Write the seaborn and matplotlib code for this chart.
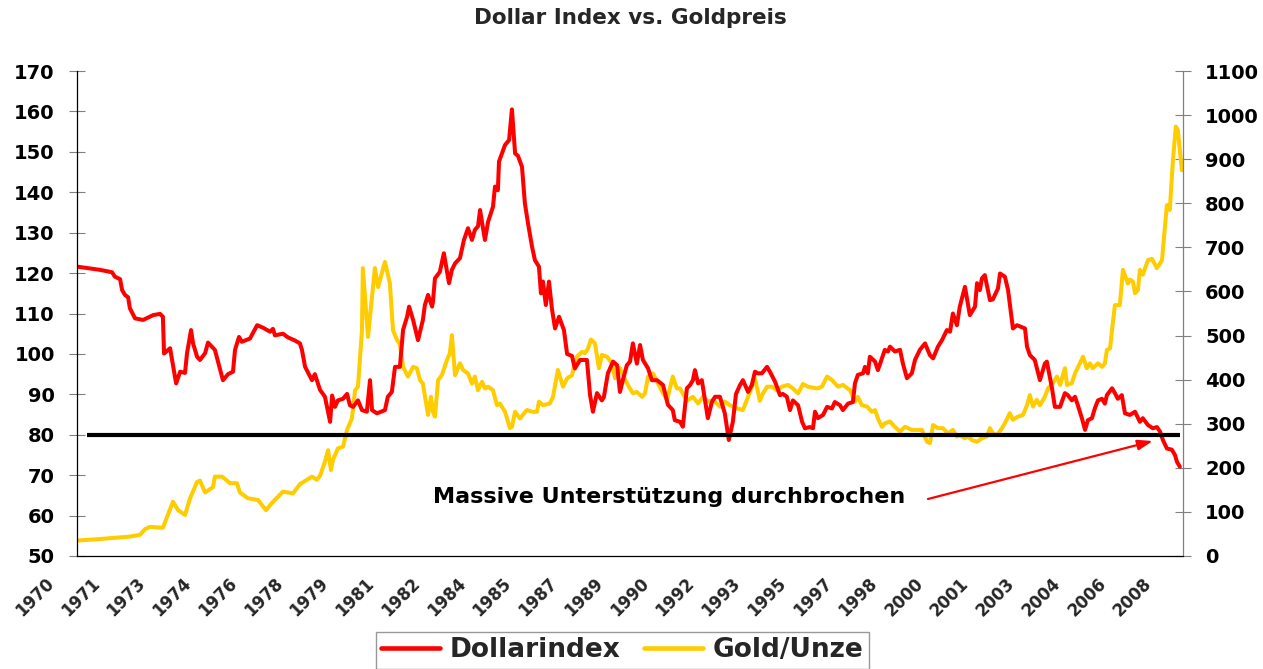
import numpy as np
import pandas as pd
import matplotlib
matplotlib.use("Agg")
import matplotlib.pyplot as plt
import seaborn as sns
from matplotlib.transforms import ScaledTranslation

# ---------------- data ----------------
usd_years = [
    1970.00, 1970.80, 1971.22, 1971.32, 1971.50, 1971.57, 1971.67, 1971.78, 1971.84, 1972.02,
    1972.30, 1972.65, 1972.89, 1972.99, 1973.03, 1973.24, 1973.31, 1973.45, 1973.59, 1973.76,
    1973.83, 1973.97, 1974.04, 1974.18, 1974.28, 1974.46, 1974.56, 1974.80, 1975.08, 1975.26,
    1975.43, 1975.50, 1975.64, 1975.74, 1976.02, 1976.27, 1976.47, 1976.72, 1976.82, 1976.89,
    1977.17, 1977.34, 1977.59, 1977.76, 1977.83, 1977.94, 1978.18, 1978.28, 1978.46, 1978.63,
    1978.81, 1978.88, 1978.98, 1979.08, 1979.26, 1979.40, 1979.50, 1979.61, 1979.78, 1979.92,
    1980.09, 1980.20, 1980.27, 1980.44, 1980.72, 1980.82, 1980.96, 1981.07, 1981.24, 1981.35,
    1981.49, 1981.56, 1981.70, 1981.87, 1982.04, 1982.11, 1982.22, 1982.36, 1982.39, 1982.46,
    1982.63, 1982.77, 1982.95, 1983.05, 1983.16, 1983.33, 1983.47, 1983.61, 1983.75, 1983.85,
    1983.96, 1984.03, 1984.20, 1984.31, 1984.48, 1984.55, 1984.65, 1984.69, 1984.90, 1985.04,
    1985.14, 1985.25, 1985.35, 1985.49, 1985.59, 1985.70, 1985.84, 1985.94, 1986.08, 1986.15,
    1986.22, 1986.32, 1986.43, 1986.53, 1986.64, 1986.78, 1986.95, 1987.06, 1987.23, 1987.33,
    1987.51, 1987.75, 1987.86, 1987.96, 1988.10, 1988.27, 1988.34, 1988.48, 1988.66, 1988.80,
    1988.90, 1989.00, 1989.14, 1989.25, 1989.35, 1989.49, 1989.60, 1989.70, 1989.88, 1990.01,
    1990.19, 1990.40, 1990.57, 1990.74, 1990.81, 1990.99, 1991.09, 1991.23, 1991.34, 1991.44,
    1991.51, 1991.62, 1991.75, 1991.86, 1991.96, 1992.10, 1992.21, 1992.38, 1992.55, 1992.69,
    1992.83, 1992.94, 1993.08, 1993.18, 1993.36, 1993.49, 1993.60, 1993.70, 1993.84, 1994.02,
    1994.12, 1994.30, 1994.47, 1994.57, 1994.71, 1994.82, 1994.92, 1995.10, 1995.24, 1995.34,
    1995.51, 1995.62, 1995.69, 1995.79, 1995.97, 1996.11, 1996.28, 1996.38, 1996.56, 1996.66,
    1996.84, 1997.01, 1997.08, 1997.18, 1997.36, 1997.43, 1997.53, 1997.60, 1997.78, 1997.88,
    1998.02, 1998.12, 1998.23, 1998.30, 1998.47, 1998.65, 1998.75, 1998.89, 1999.06, 1999.17,
    1999.34, 1999.52, 1999.69, 1999.80, 1999.97, 2000.11, 2000.28, 2000.39, 2000.49, 2000.63,
    2000.73, 2000.91, 2001.08, 2001.26, 2001.33, 2001.43, 2001.50, 2001.60, 2001.78, 2001.88,
    2002.06, 2002.13, 2002.30, 2002.41, 2002.58, 2002.72, 2003.00, 2003.07, 2003.17, 2003.34,
    2003.52, 2003.69, 2003.76, 2003.94, 2004.04, 2004.22, 2004.39, 2004.49, 2004.63, 2004.74,
    2004.84, 2004.98, 2005.09, 2005.19, 2005.33, 2005.43, 2005.54, 2005.68, 2005.78, 2005.85,
    2006.03, 2006.13, 2006.23, 2006.37, 2006.48, 2006.65, 2006.83, 2007.00, 2007.10, 2007.28,
    2007.45, 2007.59, 2007.70, 2007.80, 2007.94, 2008.11, 2008.22, 2008.29, 2008.39,
]
usd_index = [
    121.6, 120.8, 120.2, 119.1, 118.5, 115.8, 114.6, 114.0, 111.3, 108.8,
    108.4, 109.6, 109.9, 109.2, 100.1, 101.4, 98.5, 92.7, 95.6, 95.3,
    100.2, 105.9, 102.6, 99.3, 98.5, 100.2, 102.8, 101.0, 93.5, 95.0,
    95.6, 101.0, 104.2, 103.0, 103.8, 107.1, 106.5, 105.5, 106.2, 104.6,
    105.0, 104.1, 103.3, 102.6, 101.0, 96.8, 93.5, 95.0, 91.1, 89.4,
    83.2, 89.7, 86.9, 88.5, 88.9, 90.1, 87.3, 86.9, 88.5, 86.1,
    85.7, 93.5, 86.1, 85.3, 86.1, 89.4, 90.6, 96.8, 96.8, 105.9,
    109.2, 111.7, 108.4, 103.4, 108.4, 112.1, 114.6, 111.7, 112.9, 118.7,
    120.3, 124.9, 117.5, 120.8, 122.4, 123.7, 128.2, 131.1, 128.2, 130.7,
    131.6, 135.6, 128.2, 132.7, 136.4, 141.4, 140.5, 147.6, 151.7, 152.9,
    160.5, 149.6, 149.0, 146.3, 137.3, 132.3, 126.5, 123.2, 121.6, 115.0,
    117.9, 112.1, 117.9, 111.3, 106.3, 109.2, 105.9, 100.0, 99.5, 96.4,
    98.5, 98.5, 89.8, 85.7, 90.3, 88.5, 89.3, 95.2, 98.1, 97.2,
    90.6, 93.5, 97.2, 98.1, 102.6, 97.6, 102.2, 98.5, 96.4, 93.5,
    93.5, 92.3, 87.4, 86.1, 83.6, 83.2, 82.0, 91.5, 92.3, 93.5,
    96.0, 92.7, 93.5, 88.6, 84.1, 88.1, 89.4, 89.4, 85.3, 78.7,
    83.2, 90.1, 92.3, 93.5, 90.6, 92.3, 95.6, 95.2, 95.2, 96.8,
    95.6, 93.1, 89.8, 90.1, 89.4, 86.1, 88.5, 87.3, 83.2, 81.6,
    81.9, 81.6, 85.7, 84.1, 84.9, 86.9, 86.5, 88.1, 87.3, 86.1,
    87.7, 88.1, 92.7, 94.8, 95.2, 96.8, 95.2, 99.3, 98.1, 96.0,
    98.9, 101.0, 100.6, 101.8, 100.6, 101.0, 97.6, 94.0, 95.2, 98.5,
    101.0, 102.6, 99.7, 98.9, 101.8, 103.4, 105.9, 105.5, 110.0, 107.1,
    111.7, 116.6, 109.6, 111.7, 117.5, 115.8, 118.7, 119.5, 113.3, 113.5,
    116.2, 119.9, 119.1, 115.8, 106.3, 107.1, 106.3, 101.8, 99.7, 98.5,
    93.5, 97.6, 98.1, 91.5, 86.9, 86.9, 90.3, 89.8, 88.5, 89.4,
    87.3, 84.1, 81.2, 83.6, 84.1, 86.5, 88.5, 88.9, 87.7, 89.8,
    91.5, 90.3, 88.9, 89.8, 85.3, 84.9, 85.7, 83.2, 84.1, 82.4,
    81.6, 81.9, 80.8, 78.7, 76.6, 76.3, 75.0, 73.3, 72.1,
]

gold_years = [
    1970.00, 1970.70, 1971.84, 1972.19, 1972.37, 1972.54, 1972.99, 1973.34, 1973.52, 1973.76,
    1973.93, 1974.18, 1974.28, 1974.46, 1974.73, 1974.80, 1975.05, 1975.33, 1975.57, 1975.67,
    1975.95, 1976.30, 1976.58, 1976.82, 1977.17, 1977.52, 1977.76, 1978.18, 1978.35, 1978.46,
    1978.63, 1978.74, 1978.84, 1978.91, 1979.08, 1979.26, 1979.40, 1979.57, 1979.68, 1979.78,
    1979.92, 1979.95, 1980.13, 1980.37, 1980.48, 1980.72, 1980.89, 1981.00, 1981.14, 1981.24,
    1981.35, 1981.52, 1981.70, 1981.83, 1981.94, 1982.04, 1982.22, 1982.32, 1982.39, 1982.46,
    1982.57, 1982.70, 1982.88, 1982.98, 1983.05, 1983.16, 1983.33, 1983.44, 1983.61, 1983.75,
    1983.85, 1983.96, 1984.10, 1984.20, 1984.31, 1984.48, 1984.62, 1984.72, 1984.90, 1985.07,
    1985.14, 1985.25, 1985.42, 1985.66, 1985.87, 1986.01, 1986.08, 1986.22, 1986.46, 1986.57,
    1986.74, 1986.92, 1987.06, 1987.23, 1987.33, 1987.40, 1987.58, 1987.68, 1987.79, 1987.89,
    1988.03, 1988.17, 1988.27, 1988.45, 1988.62, 1988.73, 1988.90, 1989.14, 1989.35, 1989.49,
    1989.67, 1989.77, 1989.88, 1990.05, 1990.22, 1990.40, 1990.54, 1990.64, 1990.74, 1990.88,
    1990.99, 1991.23, 1991.44, 1991.62, 1991.79, 1991.96, 1992.14, 1992.38, 1992.55, 1992.73,
    1992.97, 1993.18, 1993.36, 1993.60, 1993.77, 1993.88, 1994.02, 1994.19, 1994.36, 1994.54,
    1994.75, 1994.92, 1995.10, 1995.27, 1995.44, 1995.76, 1995.93, 1996.11, 1996.28, 1996.49,
    1996.66, 1996.91, 1997.08, 1997.18, 1997.32, 1997.50, 1997.67, 1997.78, 1997.88, 1998.02,
    1998.12, 1998.30, 1998.47, 1998.65, 1998.82, 1999.06, 1999.24, 1999.41, 1999.59, 1999.69,
    1999.80, 1999.97, 2000.14, 2000.32, 2000.49, 2000.63, 2000.73, 2000.91, 2001.01, 2001.15,
    2001.33, 2001.50, 2001.67, 2001.78, 2001.88, 2002.02, 2002.20, 2002.30, 2002.47, 2002.58,
    2002.75, 2002.93, 2003.07, 2003.17, 2003.28, 2003.41, 2003.52, 2003.69, 2003.80, 2003.97,
    2004.11, 2004.22, 2004.39, 2004.46, 2004.63, 2004.74, 2004.91, 2005.02, 2005.15, 2005.26,
    2005.36, 2005.54, 2005.68, 2005.78, 2005.85, 2005.96, 2006.03, 2006.13, 2006.30, 2006.41,
    2006.58, 2006.65, 2006.76, 2006.83, 2006.93, 2007.00, 2007.10, 2007.28, 2007.42, 2007.59,
    2007.77, 2007.84, 2007.94, 2008.04, 2008.15, 2008.25, 2008.32, 2008.46,
]
gold_price = [
    35, 38, 44, 48, 61, 66, 64, 123, 104, 93,
    130, 168, 171, 144, 156, 180, 180, 165, 165, 144,
    131, 127, 104, 123, 146, 142, 163, 180, 173, 182,
    214, 240, 195, 218, 244, 248, 286, 312, 376, 384,
    512, 653, 497, 653, 610, 667, 619, 512, 490, 480,
    429, 407, 429, 426, 399, 391, 320, 361, 327, 316,
    399, 410, 445, 460, 501, 410, 437, 422, 414, 391,
    407, 376, 395, 380, 384, 376, 342, 346, 327, 290,
    293, 327, 312, 331, 327, 327, 350, 342, 346, 361,
    422, 384, 403, 410, 437, 452, 463, 460, 471, 491,
    482, 426, 456, 452, 437, 403, 426, 392, 369, 372,
    361, 369, 407, 414, 392, 369, 354, 380, 407, 380,
    380, 352, 361, 346, 361, 350, 354, 339, 350, 342,
    335, 331, 361, 403, 352, 369, 384, 384, 376, 384,
    388, 380, 369, 390, 384, 380, 384, 407, 399, 384,
    388, 376, 350, 361, 342, 339, 327, 331, 312, 293,
    301, 305, 293, 282, 293, 286, 286, 286, 259, 256,
    297, 290, 290, 278, 286, 271, 274, 267, 271, 263,
    259, 267, 271, 290, 278, 274, 290, 301, 324, 309,
    316, 320, 342, 365, 339, 354, 342, 361, 380, 392,
    407, 388, 426, 388, 392, 414, 437, 452, 426, 437,
    426, 437, 429, 437, 467, 471, 513, 569, 569, 649,
    618, 627, 622, 596, 603, 649, 638, 671, 674, 653,
    671, 724, 796, 785, 898, 974, 966, 875,
]

x_tick_labels = ["1970", "1971", "1973", "1974", "1976", "1978", "1979", "1981",
                 "1982", "1984", "1985", "1987", "1989", "1990", "1992", "1993",
                 "1995", "1997", "1998", "2000", "2001", "2003", "2004", "2006", "2008"]
left_ticks = [50, 60, 70, 80, 90, 100, 110, 120, 130, 140, 150, 160, 170]
right_ticks = [0, 100, 200, 300, 400, 500, 600, 700, 800, 900, 1000, 1100]

support_level = 80
support_start, support_end = 1970.34, 2008.39
arrow_from = (1999.62, 64.1)
arrow_to = (2007.45, 78.45)
note_pos = (1982.39, 63.1)

title = "Dollar Index vs. Goldpreis"
note = "Massive Unterstützung durchbrochen"
series_names = ["Dollarindex", "Gold/Unze"]

RED = "#FF0000"
GOLD = "#FFCC00"
GREY = "#808080"

# ---------------- style ----------------
sns.set_style("white")
plt.rcParams["font.family"] = ["DejaVu Sans"]
plt.rcParams["font.weight"] = "bold"

df_usd = pd.DataFrame({"Jahr": usd_years, "Dollarindex": usd_index})
df_gold = pd.DataFrame({"Jahr": gold_years, "Gold": gold_price})

fig = plt.figure(figsize=(12.63, 6.69), dpi=100)
ax = fig.add_axes([0.06097, 0.16891, 0.87569, 0.72496])
ax2 = ax.twinx()

sns.lineplot(data=df_gold, x="Jahr", y="Gold", ax=ax2, color=GOLD,
             linewidth=2.9, sort=False, estimator=None)
sns.lineplot(data=df_usd, x="Jahr", y="Dollarindex", ax=ax, color=RED,
             linewidth=2.9, sort=False, estimator=None)

ax.set_zorder(ax2.get_zorder() + 1)
ax.patch.set_visible(False)

ax.hlines(support_level, support_start, support_end, color="black",
          linewidth=3.0, zorder=6)

ax.annotate("", xy=arrow_to, xytext=arrow_from,
            arrowprops=dict(arrowstyle="-|>,head_length=0.5,head_width=0.17",
                            color=RED, lw=1.6, mutation_scale=18,
                            shrinkA=0, shrinkB=0), zorder=7)
ax.text(note_pos[0], note_pos[1], note, fontsize=16, fontweight="bold",
        ha="left", va="baseline", color="black")

# axes limits & ticks
ax.set_xlim(1970.0, 2008.5)
ax.set_ylim(left_ticks[0], left_ticks[-1])
ax2.set_ylim(right_ticks[0], right_ticks[-1])
ax.set_yticks(left_ticks)
ax2.set_yticks(right_ticks)
ax.set_xticks(np.linspace(1970.10, 2008.32, len(x_tick_labels)))
ax.set_xticklabels(x_tick_labels, rotation=45, ha="right", va="top",
                   rotation_mode="anchor")

ax.set_xlabel("")
ax.set_ylabel("")
ax2.set_ylabel("")

ax.tick_params(axis="y", direction="inout", length=12, width=0.8,
               color=GREY, labelsize=14, pad=10, labelcolor="black")
ax2.tick_params(axis="y", direction="inout", length=12, width=0.8,
                color=GREY, labelsize=14, pad=10, labelcolor="black")
ax.tick_params(axis="x", length=0, labelsize=12, pad=13.5)

# shift the rotated year labels left (after tick_params, which resets transforms)
for lbl in ax.get_xticklabels():
    lbl.set_transform(lbl.get_transform() +
                      ScaledTranslation(-0.35, 0, fig.dpi_scale_trans))

for s in ["top", "right"]:
    ax.spines[s].set_visible(False)
for s in ["top", "left", "bottom"]:
    ax2.spines[s].set_visible(False)
ax.spines["left"].set_color("black")
ax.spines["left"].set_linewidth(0.9)
ax.spines["bottom"].set_color("black")
ax.spines["bottom"].set_linewidth(0.9)
ax2.spines["right"].set_color(GREY)
ax2.spines["right"].set_linewidth(0.9)

fig.text(0.499, 0.973, title, ha="center", va="center",
         fontsize=15.5, fontweight="bold")

handles = [ax.lines[0], ax2.lines[0]]
leg = fig.legend(handles, series_names, loc="upper center",
                 bbox_to_anchor=(0.4925, 1 - 632 / 669), ncol=2,
                 frameon=True, fancybox=False, edgecolor=GREY,
                 prop={"size": 19, "weight": "bold"},
                 handlelength=2.25, handletextpad=0.35, columnspacing=0.9,
                 borderpad=0.2, borderaxespad=0)
leg.get_frame().set_linewidth(1.0)
for h in leg.legend_handles:
    h.set_linewidth(3.3)

fig.savefig("out.png", dpi=100)
